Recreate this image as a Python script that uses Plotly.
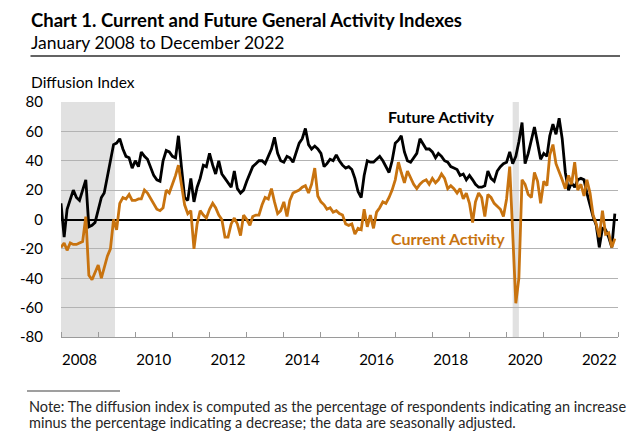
import plotly.graph_objects as go
import pandas as pd

# ---------------- data ----------------
months = pd.date_range("2008-01-01", "2022-12-01", freq="MS")

future_activity = [
    11, -12, 7, 13, 20, 15, 13, 20, 27, -5, -4, -2,          # 2008
    6, 15, 18, 30, 40, 51, 52, 55, 48, 43, 42, 35,           # 2009
    40, 36, 46, 43, 41, 36, 30, 27, 26, 40, 47, 46,          # 2010
    43, 42, 57, 35, 15, 13, 28, 12, 22, 28, 37, 36,          # 2011
    45, 37, 31, 40, 31, 28, 25, 22, 33, 21, 18, 20,          # 2012
    26, 32, 36, 38, 40, 40, 38, 43, 48, 56, 45, 40,          # 2013
    39, 43, 42, 39, 46, 52, 55, 62, 51, 48, 50, 48,          # 2014
    45, 36, 38, 41, 40, 44, 40, 37, 35, 36, 34, 28,          # 2015
    19, 15, 30, 40, 39, 39, 41, 43, 40, 36, 32, 40,          # 2016
    52, 54, 57, 46, 40, 39, 42, 45, 55, 52, 48, 48,          # 2017
    46, 42, 45, 43, 40, 39, 36, 35, 34, 30, 31, 27,          # 2018
    30, 27, 24, 22, 22, 23, 33, 28, 26, 33, 36, 38,          # 2019
    39, 46, 38, 43, 53, 66, 38, 45, 55, 63, 52, 41,          # 2020
    45, 43, 57, 65, 58, 69, 55, 32, 20, 25, 22, 27,          # 2021
    28, 27, 18, 10, 2, -4, -19, -6, -7, -12, -19, 4,         # 2022
]

current_activity = [
    -19, -16, -21, -16, -17, -17, -16, -15, 2, -38, -41, -36,  # 2008
    -31, -40, -32, -25, -20, 0, -7, 11, 15, 14, 17, 13,        # 2009
    13, 14, 14, 20, 18, 14, 10, 7, 6, 8, 20, 18,               # 2010
    24, 30, 37, 22, 10, 4, 6, -20, -3, 6, 3, 1,                # 2011
    7, 11, 8, 3, 0, -12, -12, -3, 1, -3, -11, 3,               # 2012
    0, -4, 2, 3, 3, 10, 15, 14, 21, 12, 4, 6,                  # 2013
    12, 2, 13, 18, 19, 20, 22, 23, 18, 24, 35, 16,             # 2014
    12, 10, 7, 8, 5, 6, 4, 3, -3, -4, -3, -10,                 # 2015
    -6, -7, 7, -5, 3, -6, 5, 8, 12, 11, 15, 20,                # 2016
    27, 39, 32, 25, 33, 28, 24, 21, 24, 26, 27, 24,            # 2017
    28, 25, 27, 31, 28, 21, 23, 21, 18, 21, 14, 18,            # 2018
    11, -2, 12, 18, 15, 2, 17, 15, 11, 9, 7, 2,                # 2019
    14, 36, -13, -57, -40, 27, 24, 17, 15, 32, 26, 11,         # 2020
    26, 23, 44, 51, 38, 33, 27, 21, 30, 24, 39, 20,            # 2021
    24, 16, 27, 18, 3, -3, -12, 6, -10, -9, -19, -13,          # 2022
]

recession_starts = ["2008-01-01", "2020-03-01"]
recession_ends = ["2009-06-15", "2020-05-01"]

year_labels = ["2008", "2010", "2012", "2014", "2016", "2018", "2020", "2022"]
y_ticks = [80, 60, 40, 20, 0, -20, -40, -60, -80]

# ---------------- layout helpers ----------------
W, H = 640, 439
L, R, T, B = 61, 618, 102, 337
PW, PH = R - L, B - T


def px(x):
    return (x - L) / PW


def py(y):
    return (B - y) / PH


FONT = "Lato"
ORANGE = "#C8730F"
GRID = "#B3B3B3"

fig = go.Figure()

fig.add_trace(go.Scatter(x=months, y=future_activity, mode="lines",
                         line=dict(color="black", width=2.8), name="Future Activity",
                         showlegend=False, hoverinfo="skip"))
fig.add_trace(go.Scatter(x=months, y=current_activity, mode="lines",
                         line=dict(color=ORANGE, width=2.8), name="Current Activity",
                         showlegend=False, hoverinfo="skip"))

# recession shading
for s, e in zip(recession_starts, recession_ends):
    fig.add_vrect(x0=s, x1=e, fillcolor="#E1E1E1", opacity=1, line_width=0, layer="below")

# note separator
fig.add_shape(type="rect", xref="paper", yref="paper", x0=px(27), x1=px(120),
              y0=py(391.5), y1=py(390.5), fillcolor="#404040", line_width=0)

RULE_X0, RULE_X1, RULE_Y = 29, 620, 56

annotations = [
    dict(text="<b>Chart 1. Current and Future General Activity Indexes</b>",
         x=px(29), y=py(20), xref="paper", yref="paper", xanchor="left", yanchor="middle",
         showarrow=False, font=dict(family=FONT, size=18.5, color="black")),
    dict(text="January 2008 to December 2022",
         x=px(29), y=py(43), xref="paper", yref="paper", xanchor="left", yanchor="middle",
         showarrow=False, font=dict(family=FONT, size=17.5, color="black")),
    # rule under the subtitle, drawn as a headless annotation arrow
    dict(text="", x=px(RULE_X1), y=py(RULE_Y), ax=-(RULE_X1 - RULE_X0), ay=0,
         xref="paper", yref="paper",
         showarrow=True, arrowhead=0, arrowwidth=1.3, arrowcolor="#303030",
         standoff=0, startstandoff=0),
    dict(text="Diffusion Index",
         x=px(29), y=py(82), xref="paper", yref="paper", xanchor="left", yanchor="middle",
         showarrow=False, font=dict(family=FONT, size=15.5, color="black")),
    dict(text="<b>Future Activity</b>",
         x=px(441), y=py(116), xref="paper", yref="paper", xanchor="center", yanchor="middle",
         showarrow=False, font=dict(family=FONT, size=16, color="black")),
    dict(text="<b>Current Activity</b>",
         x=px(448), y=py(238), xref="paper", yref="paper", xanchor="center", yanchor="middle",
         showarrow=False, font=dict(family=FONT, size=16, color=ORANGE)),
    dict(text="Note: The diffusion index is computed as the percentage of respondents indicating an increase",
         x=px(27), y=py(406), xref="paper", yref="paper", xanchor="left", yanchor="middle",
         align="left", showarrow=False, font=dict(family=FONT, size=14.5, color="#262626")),
    dict(text="minus the percentage indicating a decrease; the data are seasonally adjusted.",
         x=px(27), y=py(422), xref="paper", yref="paper", xanchor="left", yanchor="middle",
         align="left", showarrow=False, font=dict(family=FONT, size=14.5, color="#262626")),
]

fig.update_layout(
    width=W, height=H,
    margin=dict(l=L, r=W - R, t=T, b=H - B, pad=0),
    paper_bgcolor="white", plot_bgcolor="white",
    annotations=annotations,
    font=dict(family=FONT, size=15, color="black"),
    hovermode=False,
    xaxis=dict(
        type="date", range=["2008-01-01", "2023-01-01"],
        tickvals=[f"{y}-07-01" for y in year_labels], ticktext=year_labels,
        ticks="", showgrid=False, zeroline=False,
        showline=True, linecolor="#9A9A9A", linewidth=1,
        tickfont=dict(family=FONT, size=15, color="black"),
        ticklabelstandoff=9,
        minor=dict(ticks="inside", ticklen=5, tickcolor="#9A9A9A", dtick="M12",
                   tick0="2008-01-01", showgrid=False),
    ),
    yaxis=dict(
        range=[-80, 80], tickvals=y_ticks, ticktext=[str(v) for v in y_ticks],
        showgrid=True, gridcolor=GRID, gridwidth=1,
        zeroline=True, zerolinecolor="black", zerolinewidth=2,
        showline=False, ticks="",
        tickfont=dict(family=FONT, size=15, color="black"),
        ticklabelstandoff=17,
    ),
)

fig.write_html("out.html", config={"displayModeBar": False},
               post_script="document.body.style.margin='0px';")
